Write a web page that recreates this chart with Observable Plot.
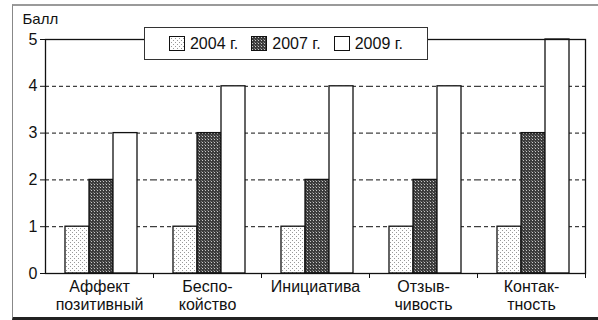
<!DOCTYPE html>
<html>
<head>
<meta charset="utf-8">
<script src="https://cdn.jsdelivr.net/npm/d3@7"></script>
<script src="https://cdn.jsdelivr.net/npm/@observablehq/plot@0.6"></script>
<style>
  html, body { margin: 0; padding: 0; background: #fff; }
  body { width: 598px; height: 320px; position: relative; overflow: hidden;
         font-family: "Liberation Sans", Arial, sans-serif; }
  #chart { position: absolute; left: 0; top: 0; }
  #border { position: absolute; left: 12px; top: 4px; width: 620px; height: 311px;
            border-top: 2px solid #9a9a9a; border-left: 1px solid #888;
            border-bottom: 3px solid #222; pointer-events: none; }
  #legend { position: absolute; left: 144px; top: 27px; width: 282px; height: 31px;
            border: 1px solid #333; background: #fff; display: flex;
            align-items: center; justify-content: center; gap: 13px;
            font-size: 16px; color: #111; }
  #legend .item { display: flex; align-items: center; gap: 5px; }
  #legend svg { display: block; }
  #defs { position: absolute; width: 0; height: 0; }
</style>
</head>
<body>
<svg id="defs" width="0" height="0">
  <defs>
    <pattern id="fill2004" width="4" height="4" patternUnits="userSpaceOnUse">
      <rect width="4" height="4" fill="#fff"/>
      <rect x="0" y="0" width="1" height="1" fill="#999"/>
      <rect x="2" y="2" width="1" height="1" fill="#999"/>
    </pattern>
    <pattern id="fill2007" width="3" height="3" patternUnits="userSpaceOnUse">
      <rect width="3" height="3" fill="#3c3c3c"/>
      <rect x="1" y="1" width="1" height="1" fill="#c8c8c8"/>
      <rect x="0" y="0" width="1" height="1" fill="#777"/>
    </pattern>
    <pattern id="fill2009" width="4" height="4" patternUnits="userSpaceOnUse">
      <rect width="4" height="4" fill="#fff"/>
    </pattern>
  </defs>
</svg>
<div id="chart"></div>
<div id="legend"></div>
<div id="border"></div>
<script>
// Categories (tick labels, with their line breaks) and series
const categories = ["Аффект\nпозитивный", "Беспо-\nкойство", "Инициатива", "Отзыв-\nчивость", "Контак-\nтность"];
const years = ["2004 г.", "2007 г.", "2009 г."];
const values2004 = [1, 1, 1, 1, 1];
const values2007 = [2, 3, 2, 2, 3];
const values2009 = [3, 4, 4, 4, 5];
const yTicks = [0, 1, 2, 3, 4, 5];
const gridTicks = [1, 2, 3, 4];
const yTitle = ["Балл"];
const fills = ["url(#fill2004)", "url(#fill2007)", "url(#fill2009)"];

const seriesValues = [values2004, values2007, values2009];
const table = categories.flatMap((c, i) =>
  years.map((yr, j) => ({category: c, year: yr, value: seriesValues[j][i]}))
);

const width = 598, height = 320;
const marginLeft = 45, marginRight = 13, marginTop = 39, marginBottom = 47;
const bandHalf = (width - marginLeft - marginRight) / categories.length / 2;

const chart = Plot.plot({
  width, height, marginLeft, marginRight, marginTop, marginBottom,
  style: {fontFamily: "'Liberation Sans', Arial, sans-serif", fontSize: "16px", color: "#111", background: "transparent"},
  fx: {domain: categories, padding: 0},
  x: {domain: years, axis: null, paddingInner: 0, paddingOuter: 0.72, align: 0.55},
  y: {domain: [0, 5]},
  color: {domain: years, range: fills},
  marks: [
    Plot.ruleY(gridTicks, {stroke: "#111", strokeWidth: 1, strokeDasharray: "4,3"}),
    Plot.barY(table, {fx: "category", x: "year", y: "value", fill: "year", stroke: "#111", strokeWidth: 1.3}),
    Plot.frame({facet: "super", stroke: "#111", strokeWidth: 1.3}),
    Plot.axisY(yTicks, {
      tickSize: 5, tickPadding: 3, stroke: "#111", fontSize: 16, label: null
    }),
    Plot.text(yTitle, {
      facet: "super", frameAnchor: "top-left", text: d => d, textAnchor: "start",
      lineAnchor: "middle", dx: -23, dy: -20, fontSize: 15
    }),
    Plot.axisFx({anchor: "bottom", tickSize: 0, tickPadding: 6, label: null, fontSize: 16, lineHeight: 1.1}),
    Plot.axisFx({anchor: "bottom", tickSize: 5, tickFormat: () => "", label: null, dx: bandHalf, stroke: "#111"})
  ]
});
document.getElementById("chart").appendChild(chart);

// Legend built from the same series and fills
const legend = d3.select("#legend");
years.forEach((yr, j) => {
  const item = legend.append("div").attr("class", "item");
  const sw = item.append("svg").attr("width", 16).attr("height", 15);
  sw.append("rect").attr("x", 0.5).attr("y", 0.5).attr("width", 15).attr("height", 14)
    .attr("fill", fills[j]).attr("stroke", "#111").attr("stroke-width", 1);
  item.append("span").text(yr);
});
</script>
</body>
</html>
